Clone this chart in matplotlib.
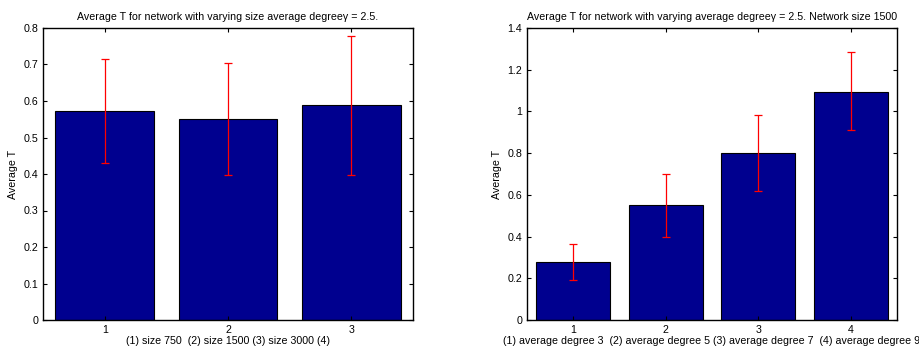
import numpy as np
import matplotlib
matplotlib.use('Agg')
import matplotlib.pyplot as plt

plt.rcParams['font.family'] = ['Liberation Sans', 'DejaVu Sans']
plt.rcParams['font.size'] = 7.7

# left panel: varying network size
size_pos = [1, 2, 3]
size_mean = [0.573, 0.550, 0.588]
size_lo = [0.430, 0.397, 0.398]
size_hi = [0.716, 0.703, 0.777]

# right panel: varying average degree
deg_pos = [1, 2, 3, 4]
deg_mean = [0.278, 0.550, 0.803, 1.095]
deg_lo = [0.193, 0.400, 0.620, 0.910]
deg_hi = [0.365, 0.702, 0.985, 1.283]

bar_color = (0, 0, 0.5625)

fig = plt.figure(figsize=(9.19, 3.47), dpi=100)
ax1 = fig.add_axes([43/919, 27/347, 370/919, 292/347])
ax2 = fig.add_axes([527/919, 27/347, 370/919, 292/347])

def draw(ax, pos, mean, lo, hi):
    mean = np.array(mean)
    yerr = [mean - np.array(lo), np.array(hi) - mean]
    ax.bar(pos, mean, width=0.8, color=bar_color, edgecolor='black', linewidth=0.8)
    ax.errorbar(pos, mean, yerr=yerr, fmt='none', ecolor='red', elinewidth=0.9,
                capsize=3, capthick=0.9)
    ax.set_xticks(pos)
    ax.tick_params(direction='in', top=True, right=True, length=3, labelsize=7.7)
    ax.set_ylabel('Average T', fontsize=7.7)
    for s in ax.spines.values():
        s.set_linewidth(1)

draw(ax1, size_pos, size_mean, size_lo, size_hi)
ax1.set_xlim(0.5, 3.5)
ax1.set_ylim(0, 0.8)
ax1.set_yticks(np.arange(0, 0.81, 0.1))
ax1.set_yticklabels(['0', '0.1', '0.2', '0.3', '0.4', '0.5', '0.6', '0.7', '0.8'])
ax1.set_xlabel('(1) size 750  (2) size 1500 (3) size 3000 (4)', fontsize=7.7, labelpad=1)
ax1.set_title('Average T for network with varying size average degree\u03b3 = 2.5.', fontsize=7.7)

draw(ax2, deg_pos, deg_mean, deg_lo, deg_hi)
ax2.set_xlim(0.5, 4.5)
ax2.set_ylim(0, 1.4)
ax2.set_yticks([0, 0.2, 0.4, 0.6, 0.8, 1, 1.2, 1.4])
ax2.set_yticklabels(['0', '0.2', '0.4', '0.6', '0.8', '1', '1.2', '1.4'])
ax2.set_xlabel('(1) average degree 3  (2) average degree 5 (3) average degree 7  (4) average degree 9',
               fontsize=7.7, labelpad=1)
ax2.set_title('Average T for network with varying average degree\u03b3 = 2.5. Network size 1500', fontsize=7.7)

fig.savefig('out.png', dpi=100)
